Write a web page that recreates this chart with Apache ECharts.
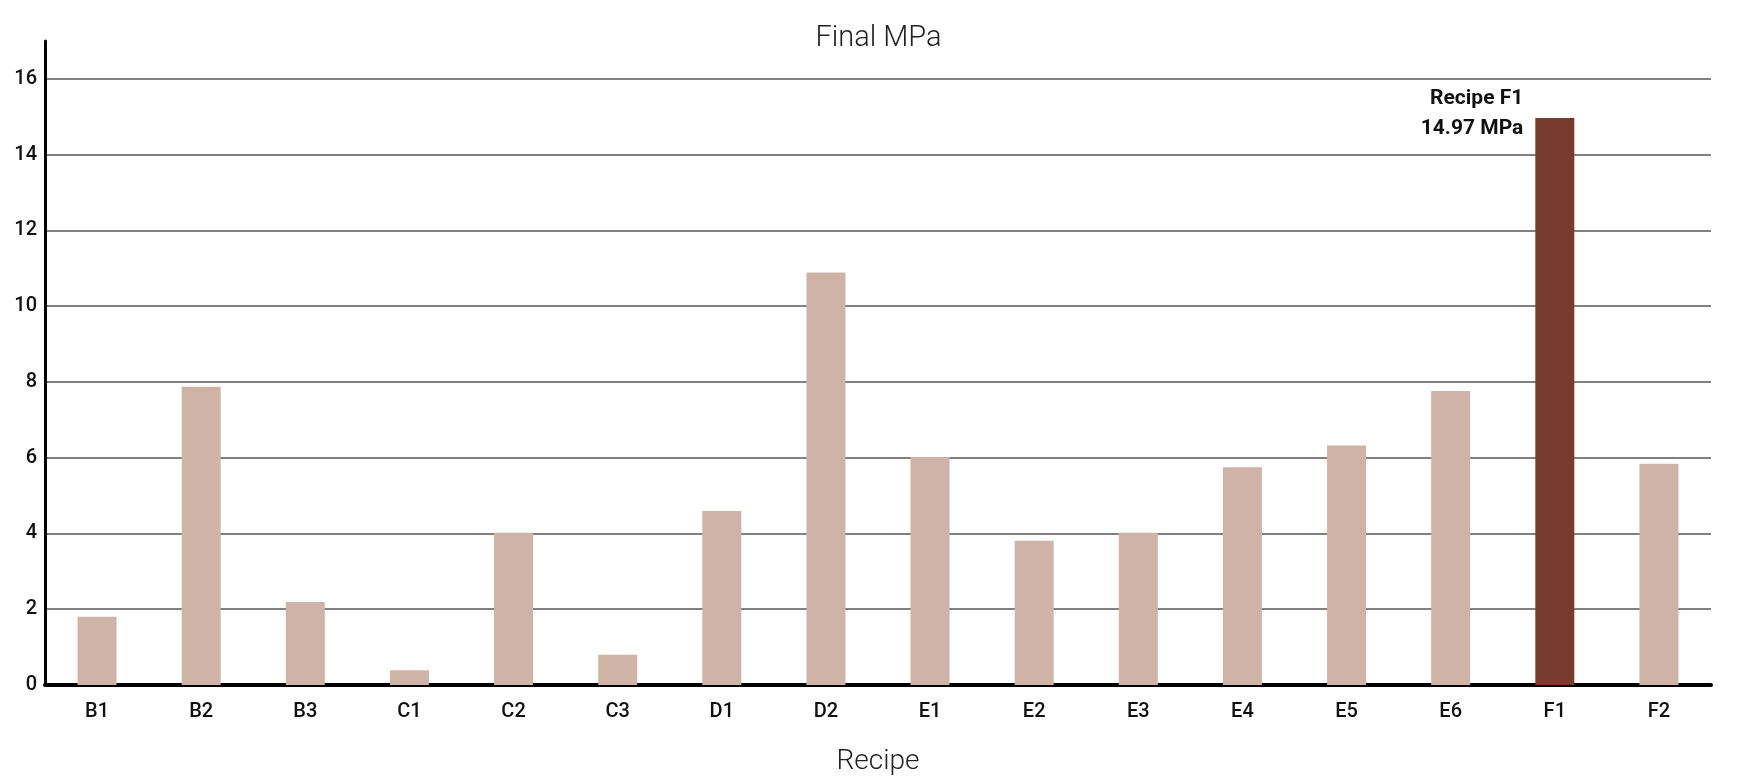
<!DOCTYPE html>
<html>
<head lang="en">
    <meta charset="UTF-8"/>
    <title>Final MPa</title>
    <script src="https://cdn.jsdelivr.net/npm/echarts@6/dist/echarts.min.js"></script>
    <style>
        html, body { margin: 0; padding: 0; background: #fff; }
        #main { width: 1757px; height: 781px; }
    </style>
</head>
<body>
<div id="main"></div>
<script>
    // recipes on the x axis
    var recipes = ['B1', 'B2', 'B3', 'C1', 'C2', 'C3', 'D1', 'D2', 'E1', 'E2', 'E3', 'E4', 'E5', 'E6', 'F1', 'F2'];
    // final strength per recipe, MPa
    var finalMPa = [1.80, 7.87, 2.19, 0.39, 4.02, 0.80, 4.59, 10.89, 6.02, 3.81, 4.02, 5.75, 6.32, 7.76, 14.97, 5.84];
    var highlight = 'F1';

    var lightColor = '#cfb3a7';
    var darkColor = '#773c2e';

    var barData = recipes.map(function (name, i) {
        var item = {value: finalMPa[i]};
        if (name === highlight) {
            item.itemStyle = {color: darkColor};
            item.label = {
                show: true,
                position: [-12, -4],
                align: 'right',
                verticalAlign: 'middle',
                fontFamily: 'Roboto',
                fontWeight: 'bold',
                fontSize: 21,
                lineHeight: 30,
                color: '#111',
                formatter: 'Recipe ' + name + '\n' + finalMPa[i].toFixed(2) + ' MPa'
            };
        }
        return item;
    });

    var myChart = echarts.init(document.getElementById('main'));
    var option = {
        animation: false,
        backgroundColor: '#fff',
        title: {
            text: 'Final MPa',
            left: 'center',
            top: 19,
            textStyle: {
                fontFamily: 'Roboto',
                fontWeight: 300,
                fontSize: 29,
                color: '#222'
            }
        },
        grid: {
            left: 45,
            right: 46,
            top: 41,
            bottom: 94
        },
        xAxis: {
            type: 'category',
            data: recipes,
            name: 'Recipe',
            nameLocation: 'middle',
            nameGap: 63,
            nameTextStyle: {
                fontFamily: 'Roboto',
                fontWeight: 300,
                fontSize: 28,
                color: '#222'
            },
            axisTick: {show: false},
            axisLine: {lineStyle: {color: '#000', width: 4}},
            axisLabel: {
                margin: 17,
                fontFamily: 'Roboto',
                fontWeight: 500,
                fontSize: 20,
                color: '#111'
            }
        },
        yAxis: {
            type: 'value',
            min: 0,
            max: 17,
            interval: 2,
            axisTick: {show: false},
            axisLine: {show: true, lineStyle: {color: '#000', width: 3}},
            axisLabel: {
                showMaxLabel: false,
                margin: 8,
                fontFamily: 'Roboto',
                fontWeight: 500,
                fontSize: 20,
                color: '#111'
            },
            splitLine: {
                show: true,
                showMinLine: false,
                showMaxLine: false,
                lineStyle: {color: '#808080', width: 2}
            }
        },
        series: [{
            type: 'bar',
            data: barData,
            barWidth: 39,
            itemStyle: {color: lightColor}
        }]
    };
    myChart.setOption(option);
</script>
</body>
</html>
